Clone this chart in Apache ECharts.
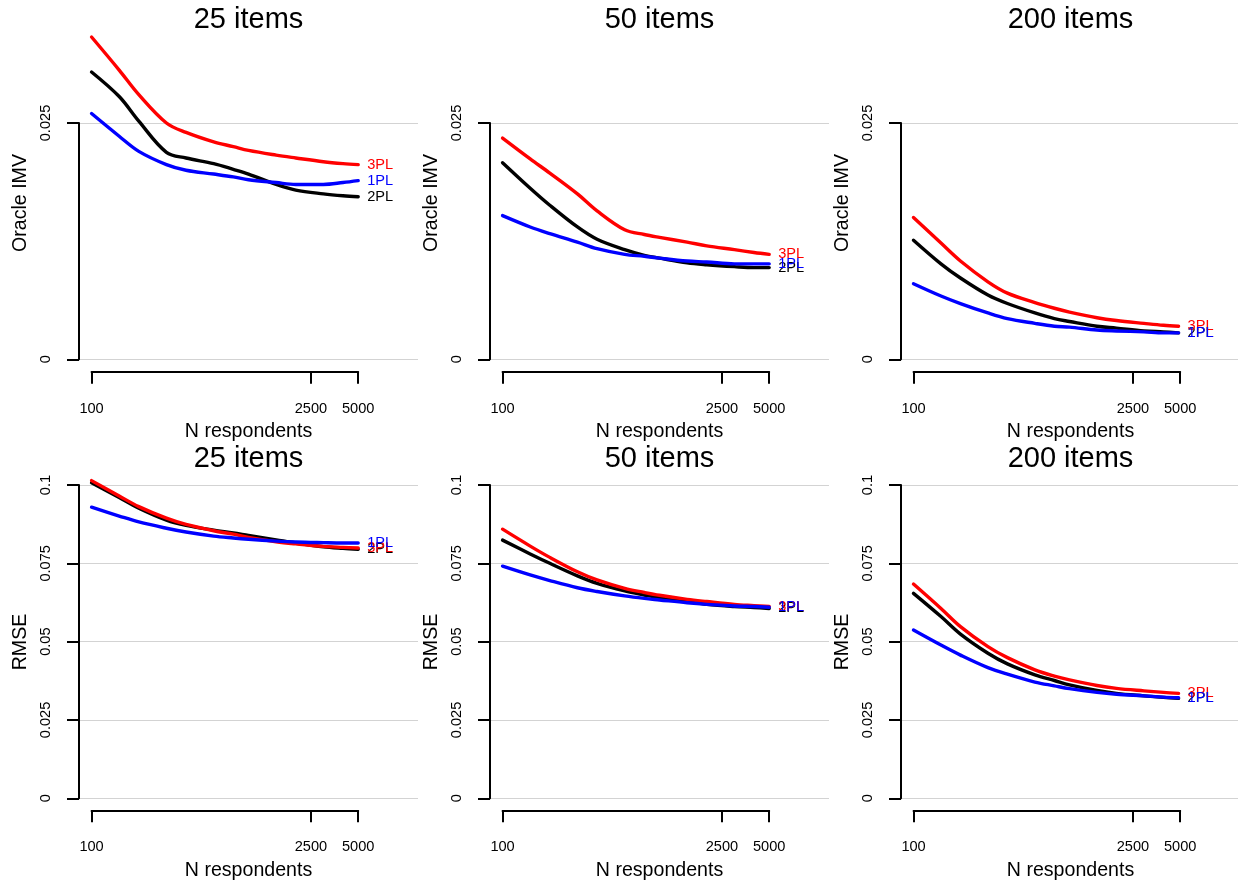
<!DOCTYPE html>
<html><head><meta charset="utf-8">
<script src="https://cdn.jsdelivr.net/npm/echarts@6/dist/echarts.min.js"></script>
<style>html,body{margin:0;padding:0;background:#fff}#c{width:1238px;height:883px}</style>
</head><body><div id="c"></div>
<script>
// ---- data ----
const N = [100, 150, 200, 300, 400, 600, 800, 1000, 1500, 2000, 3000, 4000, 5000];
const xTicks = [100, 2500, 5000];
const panelTitles = ['25 items', '50 items', '200 items'];
const rowYLabels = ['Oracle IMV', 'RMSE'];
const xAxisTitle = 'N respondents';
const models = ['2PL', '3PL', '1PL'];
const yTickMax = [0.025, 0.1];
const yTickStep = 0.025;

// Oracle IMV
const imv25_1PL = [0.0260, 0.0236, 0.0220, 0.0206, 0.0200, 0.0196, 0.0193, 0.0190, 0.0187, 0.0185, 0.0185, 0.0187, 0.0189];
const imv25_2PL = [0.0304, 0.0278, 0.0252, 0.0219, 0.0213, 0.0207, 0.0201, 0.0196, 0.0185, 0.0179, 0.0175, 0.0173, 0.0172];
const imv25_3PL = [0.0341, 0.0306, 0.0280, 0.0250, 0.0240, 0.0230, 0.0225, 0.0221, 0.0216, 0.0213, 0.0209, 0.0207, 0.0206];
const imv50_1PL = [0.0152, 0.0140, 0.0133, 0.0124, 0.0117, 0.0111, 0.0109, 0.0107, 0.0104, 0.0103, 0.0101, 0.0101, 0.0101];
const imv50_2PL = [0.0208, 0.0181, 0.0163, 0.0140, 0.0127, 0.0116, 0.0110, 0.0107, 0.0102, 0.0100, 0.0098, 0.0097, 0.0097];
const imv50_3PL = [0.0234, 0.0212, 0.0197, 0.0175, 0.0157, 0.0137, 0.0132, 0.0129, 0.0124, 0.0120, 0.0116, 0.0113, 0.0111];
const imv200_1PL = [0.0080, 0.0067, 0.0059, 0.0049, 0.0043, 0.0038, 0.0035, 0.0034, 0.0031, 0.0030, 0.0029, 0.0028, 0.0028];
const imv200_2PL = [0.0126, 0.0101, 0.0086, 0.0068, 0.0059, 0.0049, 0.0043, 0.0040, 0.0035, 0.0033, 0.0030, 0.0029, 0.0028];
const imv200_3PL = [0.0150, 0.0123, 0.0104, 0.0082, 0.0070, 0.0060, 0.0054, 0.0050, 0.0044, 0.0041, 0.0038, 0.0036, 0.0035];

// RMSE
const rmse25_1PL = [0.0929, 0.0901, 0.0882, 0.0862, 0.0850, 0.0837, 0.0831, 0.0827, 0.0821, 0.0818, 0.0816, 0.0815, 0.0815];
const rmse25_2PL = [0.1007, 0.0960, 0.0926, 0.0888, 0.0871, 0.0856, 0.0847, 0.0839, 0.0825, 0.0815, 0.0803, 0.0798, 0.0795];
const rmse25_3PL = [0.1014, 0.0965, 0.0931, 0.0894, 0.0874, 0.0854, 0.0843, 0.0833, 0.0819, 0.0812, 0.0804, 0.0801, 0.0799];
const rmse50_1PL = [0.0741, 0.0713, 0.0695, 0.0672, 0.0660, 0.0646, 0.0638, 0.0633, 0.0624, 0.0619, 0.0614, 0.0612, 0.0610];
const rmse50_2PL = [0.0824, 0.0780, 0.0750, 0.0710, 0.0686, 0.0662, 0.0649, 0.0640, 0.0628, 0.0619, 0.0612, 0.0609, 0.0606];
const rmse50_3PL = [0.0859, 0.0805, 0.0769, 0.0723, 0.0697, 0.0670, 0.0657, 0.0648, 0.0635, 0.0628, 0.0619, 0.0615, 0.0612];
const rmse200_1PL = [0.0537, 0.0489, 0.0457, 0.0417, 0.0396, 0.0371, 0.0359, 0.0350, 0.0338, 0.0332, 0.0327, 0.0323, 0.0321];
const rmse200_2PL = [0.0654, 0.0580, 0.0524, 0.0463, 0.0429, 0.0394, 0.0376, 0.0362, 0.0344, 0.0335, 0.0327, 0.0322, 0.0319];
const rmse200_3PL = [0.0684, 0.0606, 0.0548, 0.0484, 0.0449, 0.0410, 0.0390, 0.0378, 0.0360, 0.0351, 0.0343, 0.0338, 0.0335];

// ---- layout / style ----
const FONT = "'Liberation Sans', Arial, Helvetica, sans-serif";
const colors = {'1PL': '#0000FF', '2PL': '#000000', '3PL': '#FF0000'};
const panelData = [
  [{'1PL': imv25_1PL, '2PL': imv25_2PL, '3PL': imv25_3PL},
   {'1PL': imv50_1PL, '2PL': imv50_2PL, '3PL': imv50_3PL},
   {'1PL': imv200_1PL, '2PL': imv200_2PL, '3PL': imv200_3PL}],
  [{'1PL': rmse25_1PL, '2PL': rmse25_2PL, '3PL': rmse25_3PL},
   {'1PL': rmse50_1PL, '2PL': rmse50_2PL, '3PL': rmse50_3PL},
   {'1PL': rmse200_1PL, '2PL': rmse200_2PL, '3PL': rmse200_3PL}]
];
const colStep = 411;
const plotLeft = 79, plotW = 339;
const rowGeom = [
  {top: 123, height: 236.3, axisY: 371.7, title: 20.3, xTitle: 431.5, yTitle: 203},
  {top: 485, height: 313.3, axisY: 810.3, title: 458.8, xTitle: 870.5, yTitle: 642}
];
const logMin = 1.92, logMax = 4.08;

const grid = [], xAxis = [], yAxis = [], series = [], graphic = [];
const fmtY = v => String(+v.toFixed(4));

for (let r = 0; r < 2; r++) {
  for (let c = 0; c < 3; c++) {
    const g = r * 3 + c;
    const G = rowGeom[r];
    const left = plotLeft + colStep * c;
    grid[g] = {left: left, top: G.top, width: plotW, height: G.height};
    xAxis[g] = {type: 'log', logBase: 10, gridIndex: g, min: Math.pow(10, logMin), max: Math.pow(10, logMax), show: false};
    yAxis[g] = {
      type: 'value', gridIndex: g, min: 0, max: yTickMax[r], interval: yTickStep,
      axisLine: {show: true, onZero: false, lineStyle: {color: '#000', width: 2}},
      axisTick: {show: true, inside: false, length: 12, lineStyle: {color: '#000', width: 2}},
      axisLabel: {rotate: 90, fontSize: 14.6, fontFamily: FONT, color: '#000', margin: 26, formatter: fmtY},
      splitLine: {show: true, lineStyle: {color: '#d3d3d3', width: 1}}
    };
    // display x axis (ticks only from 100 to 5000)
    const pxPerDec = plotW / (logMax - logMin);
    const xl = left + (Math.log10(xTicks[0]) - logMin) * pxPerDec;
    const xr = left + (Math.log10(xTicks[xTicks.length - 1]) - logMin) * pxPerDec;
    const gx = 6 + g;
    grid[gx] = {left: xl, width: xr - xl, top: G.axisY - 1, height: 1};
    const tv = xTicks.map(Math.log10);
    xAxis[gx] = {
      type: 'value', gridIndex: gx, min: tv[0], max: tv[tv.length - 1],
      axisLine: {show: true, onZero: false, lineStyle: {color: '#000', width: 2}},
      axisTick: {show: true, inside: false, length: 12, customValues: tv, lineStyle: {color: '#000', width: 2}},
      axisLabel: {show: true, customValues: tv, fontSize: 14.6, fontFamily: FONT, color: '#000', margin: 29.5,
                  formatter: v => String(Math.round(Math.pow(10, v)))},
      splitLine: {show: false}
    };
    yAxis[gx] = {type: 'value', gridIndex: gx, min: 0, max: 1, show: false};

    models.forEach(m => {
      const vals = panelData[r][c][m];
      series.push({
        type: 'line', name: m, xAxisIndex: g, yAxisIndex: g,
        data: N.map((n, i) => [n, vals[i]]),
        showSymbol: false, symbol: 'none', smooth: 0.35, clip: false, silent: true,
        lineStyle: {color: colors[m], width: 3.4, cap: 'round', join: 'round'},
        itemStyle: {color: colors[m]},
        endLabel: {show: true, formatter: () => m, color: colors[m], fontSize: 14.6, fontFamily: FONT, distance: 9}
      });
    });

    const cx = left + plotW / 2;
    graphic.push({type: 'text', x: cx, y: G.title, style: {text: panelTitles[c], font: `29px ${FONT}`, fill: '#000', align: 'center', verticalAlign: 'middle'}});
    graphic.push({type: 'text', x: cx, y: G.xTitle, style: {text: xAxisTitle, font: `19.6px ${FONT}`, fill: '#000', align: 'center', verticalAlign: 'middle'}});
    graphic.push({type: 'text', x: left - 58, y: G.yTitle, rotation: Math.PI / 2, style: {text: rowYLabels[r], font: `19.6px ${FONT}`, fill: '#000', align: 'center', verticalAlign: 'middle'}});
  }
}

const chart = echarts.init(document.getElementById('c'), null, {renderer: 'canvas'});
chart.setOption({
  animation: false,
  backgroundColor: '#fff',
  grid, xAxis, yAxis, series, graphic
});
</script></body></html>
